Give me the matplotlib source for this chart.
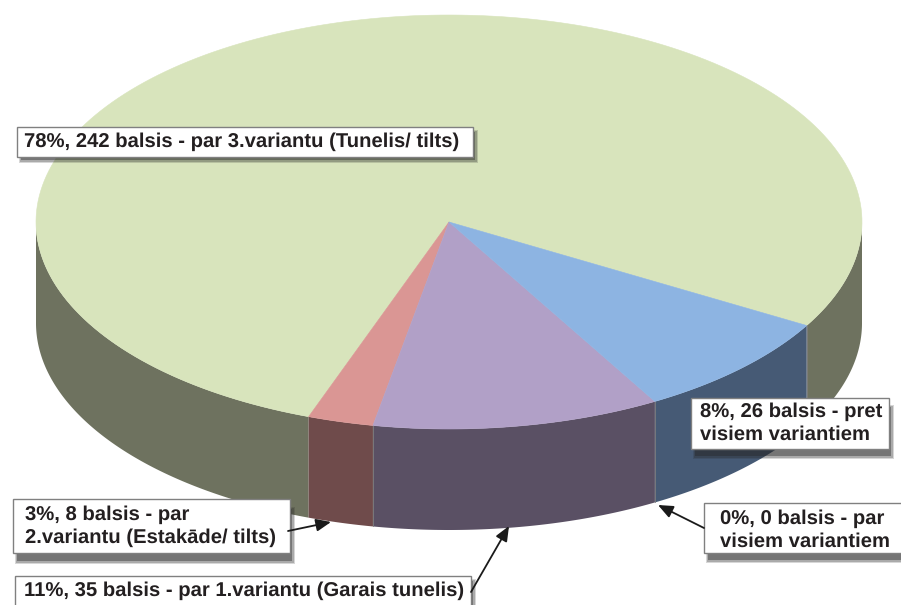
import numpy as np
import matplotlib
matplotlib.use("Agg")
import matplotlib.pyplot as plt
from matplotlib.patches import Polygon, Rectangle

plt.rcParams['font.family'] = ['Liberation Sans', 'DejaVu Sans']
plt.rcParams['text.hinting'] = 'no_hinting'

#Chart values, counter clockwise from the green slice
votes = [242, 8, 35, 26]
top_colors = ["#D8E4BC", "#DA9694", "#B1A0C7", "#8DB4E2"]
side_colors = ["#6E725F", "#6F4B4B", "#5A5064", "#465A75"]
labels = ["78%, 242 balsis - par 3.variantu (Tunelis/ tilts)",
          "3%, 8 balsis - par\n2.variantu (Estakāde/ tilts)",
          "11%, 35 balsis - par 1.variantu (Garais tunelis)",
          "0%, 0 balsis - par\nvisiem variantiem",
          "8%, 26 balsis - pret\nvisiem variantiem"]

#Pie geometry in pixels
cx, cy = 449, 222
rx, ry = 413, 207
depth = 101
start = -30

def arc(a0, a1, dy=0):
    t = np.radians(np.linspace(a0, a1, 200))
    return np.column_stack((cx + rx*np.cos(t), cy - ry*np.sin(t) + dy))

fig = plt.figure(figsize=(9.01, 6.05), dpi=100)
ax = fig.add_axes([0, 0, 1, 1])
ax.set_xlim(0, 901)
ax.set_ylim(605, 0)
ax.axis('off')

#Slice angles
sweeps = np.array(votes)/sum(votes)*360
ends = start + np.cumsum(sweeps)
starts = ends - sweeps

#Side walls, only the front half of the pie shows
for a0, a1, c in zip(starts, ends, side_colors):
    for shift in (0, 360, -360):
        lo = max(a0 + shift, 180)
        hi = min(a1 + shift, 360)
        if hi > lo:
            pts = np.vstack((arc(lo, hi), arc(hi, lo, depth)))
            ax.add_patch(Polygon(pts, closed=True, fc=c, ec='none', zorder=2))

#Thin seams between the walls
for a in [ends[1], ends[2], starts[0]]:
    p = arc(a, a)[0]
    ax.plot([p[0], p[0]], [p[1], p[1]+depth], color="#7F7F7F", lw=0.6, zorder=3)

#Top of the pie
for a0, a1, c in zip(starts, ends, top_colors):
    pts = np.vstack(([[cx, cy]], arc(a0, a1)))
    ax.add_patch(Polygon(pts, closed=True, fc=c, ec=c, lw=0.4, zorder=4))

#Label boxes: x0, y0, x1, y1, text x, text y, shadow drop
boxes = [(17, 127, 473, 157, 24, 142, 4),
         (13, 499, 290, 553, 25, 526, 9),
         (15, 576, 471, 612, 24, 591, 4),
         (704, 503, 906, 553, 720, 530, 8),
         (691, 398, 889, 449, 700, 423, 8)]

for (x0, y0, x1, y1, tx, ty, drop), txt in zip(boxes, labels):
    #soft shadow from a few stacked rectangles
    for grow, alpha in ((1.5, 0.18), (0.5, 0.25), (-1, 0.4)):
        ax.add_patch(Rectangle((x0+3-grow, y0+drop-grow), x1-x0+2*grow, y1-y0+2*grow,
                               fc="#262626", ec='none', alpha=alpha, zorder=5))
    ax.add_patch(Rectangle((x0, y0), x1-x0, y1-y0, fc='white', ec="#808080", lw=1, zorder=6))
    ax.text(tx, ty, txt, ha='left', va='center', fontsize=14.6, fontweight='bold',
            color="#231F20", linespacing=1.3, zorder=7)

#Arrows from the boxes to the pie
arrows = [((288, 531), (331, 522)),
          ((471, 592), (509, 526)),
          ((704, 528), (658, 505))]
for tail, head in arrows:
    ax.annotate("", xy=head, xytext=tail, zorder=8,
                arrowprops=dict(arrowstyle="-|>,head_length=0.9,head_width=0.38", color="#1A1A1A", lw=1.3,
                                shrinkA=0, shrinkB=0))

fig.savefig("out.png", dpi=100)
